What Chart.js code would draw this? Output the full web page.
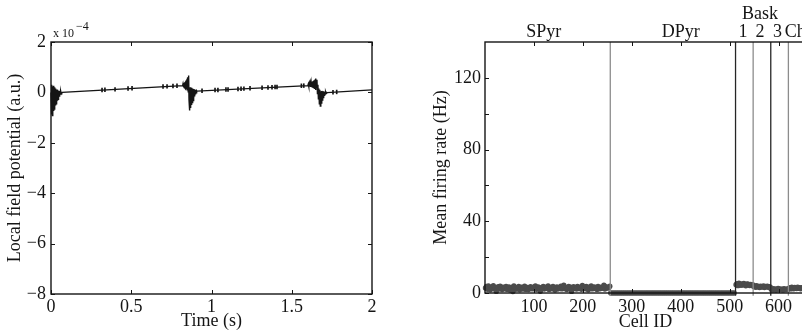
<!DOCTYPE html>
<html>
<head>
<meta charset="utf-8">
<script src="https://cdn.jsdelivr.net/npm/chart.js@4.4.1/dist/chart.umd.min.js"></script>
<style>
  html, body { margin: 0; padding: 0; background: #fff; overflow: hidden; }
  #wrap { position: relative; width: 802px; height: 333px; overflow: hidden; }
  #lfpChart { position: absolute; left: 0; top: 0; }
  #rateChart { position: absolute; left: 400px; top: 0; }
</style>
</head>
<body>
<div id="wrap">
  <canvas id="lfpChart" width="400" height="333"></canvas>
  <canvas id="rateChart" width="430" height="333"></canvas>
</div>
<script>
// LFP trace, values in units of 1e-4
const lfpTime = [
  // onset burst
  0.000, 0.002, 0.004, 0.006, 0.008, 0.010, 0.012, 0.014, 0.016, 0.018,
  0.020, 0.022, 0.024, 0.026, 0.028, 0.030, 0.032, 0.034, 0.036, 0.038,
  0.040, 0.042, 0.044, 0.046, 0.048, 0.050, 0.052, 0.054, 0.056, 0.058,
  0.060, 0.062, 0.064, 0.066, 0.068, 0.070,
  // second burst
  0.8200, 0.8225, 0.8250, 0.8275, 0.8300, 0.8325, 0.8350, 0.8375, 0.8400, 0.8425,
  0.8450, 0.8475, 0.8500, 0.8525, 0.8550, 0.8575, 0.8600, 0.8625, 0.8650, 0.8675,
  0.8700, 0.8725, 0.8750, 0.8775, 0.8800, 0.8825, 0.8850, 0.8875, 0.8900, 0.8925,
  0.8950, 0.8975, 0.9000, 0.9025, 0.9050, 0.9075, 0.9100,
  // third burst
  1.600, 1.603, 1.606, 1.609, 1.612, 1.615, 1.618, 1.621, 1.624, 1.627,
  1.630, 1.633, 1.636, 1.639, 1.642, 1.645, 1.648, 1.651, 1.654, 1.657,
  1.660, 1.663, 1.666, 1.669, 1.672, 1.675, 1.678, 1.681, 1.684, 1.687,
  1.690, 1.693, 1.696, 1.699, 1.702, 1.705, 1.708, 1.711, 1.714, 1.717,
  1.720,
  2.000
];
const lfpValue = [
  0.00, 0.28, -0.88, 0.30, -0.92, 0.22, -0.80, 0.26, -0.74, 0.18,
  -0.66, 0.20, -0.58, 0.14, -0.52, 0.15, -0.45, 0.10, -0.40, 0.11,
  -0.33, 0.08, -0.27, 0.07, -0.22, 0.05, -0.17, 0.05, -0.13, 0.03,
  -0.09, 0.03, -0.06, 0.02, -0.03, 0.00,
  0.27, 0.34, 0.21, 0.37, 0.19, 0.40, 0.17, 0.44, 0.14, 0.48,
  0.12, 0.54, 0.08, 0.60, 0.02, 0.67, -0.30, 0.10, -0.72, 0.20,
  -0.62, 0.18, -0.50, 0.16, -0.40, 0.15, -0.32, 0.13, -0.24, 0.12,
  -0.16, 0.10, -0.08, 0.09, -0.02, 0.07, 0.05,
  0.27, 0.33, 0.24, 0.35, 0.23, 0.37, 0.22, 0.39, 0.21, 0.42,
  0.19, 0.45, 0.17, 0.48, 0.14, 0.51, 0.10, 0.55, 0.20, 0.50,
  -0.05, 0.30, -0.25, 0.15, -0.45, 0.10, -0.54, 0.05, -0.42, 0.06,
  -0.30, 0.05, -0.20, 0.04, -0.12, 0.03, -0.07, 0.02, -0.04, 0.00,
  -0.01,
  0.10
];

// small spikes riding on the trace
const spikeTime = [0.318, 0.336, 0.399, 0.480, 0.505, 0.698, 0.723, 0.760, 0.785,
  0.941, 1.022, 1.040, 1.090, 1.103, 1.165, 1.184, 1.202, 1.240, 1.315, 1.352,
  1.377, 1.396, 1.408, 1.560, 1.575, 1.757, 1.780];
const spikeLow = [0.020, 0.027, 0.050, 0.079, 0.088, 0.159, 0.168, 0.181, 0.190,
  -0.008, 0.017, 0.023, 0.039, 0.043, 0.063, 0.069, 0.075, 0.087, 0.111, 0.123,
  0.131, 0.137, 0.141, 0.189, 0.194, -0.066, -0.057];
const spikeHigh = [0.170, 0.177, 0.190, 0.229, 0.238, 0.309, 0.308, 0.331, 0.340,
  0.142, 0.167, 0.173, 0.189, 0.193, 0.213, 0.219, 0.225, 0.237, 0.261, 0.273,
  0.281, 0.287, 0.291, 0.339, 0.344, 0.084, 0.093];

const lfpXTicks = [0, 0.5, 1, 1.5, 2];
const lfpYTicks = [-8, -6, -4, -2, 0, 2];

// mean firing rate per cell (Hz)
const spyrRate = [
  2.8, 3.6, 2.1, 3.9, 2.5, 1.8, 3.2, 2.9, 4.1, 2.4, 3.0, 0.9, 2.7, 3.5, 2.2, 3.8,
  2.6, 1.9, 3.3, 2.4, 2.9, 3.7, 2.0, 2.8, 3.4, 1.7, 2.5, 3.1, 0.8, 3.9, 2.7, 2.1,
  3.0, 2.4, 3.6, 1.8, 2.9, 3.3, 2.2, 2.6, 3.8, 2.0, 2.7, 3.1, 1.9, 2.5, 3.5, 2.8,
  2.3, 3.2, 2.6, 4.0, 2.1, 2.9, 3.4, 2.4, 1.0, 3.0, 2.7, 3.6, 2.2, 2.8, 3.3, 2.5,
  3.9, 2.0, 2.6, 3.1, 2.4, 3.7, 2.9, 1.7, 2.8, 3.4, 2.2, 3.0, 2.6, 3.8, 2.3, 2.9,
  4.3, 2.5, 3.1, 2.0, 2.7, 3.6, 2.4, 3.2, 0.9, 2.8, 3.5, 2.6, 3.0, 2.2, 3.7, 2.5,
  2.9, 3.3, 2.1, 4.2, 2.7, 3.0, 2.4, 3.6, 2.8, 1.8, 3.2, 2.6, 3.9, 2.3, 2.9, 3.4,
  2.5, 3.1, 2.0, 3.7, 2.8, 2.4, 3.3, 2.6, 3.0, 4.4, 2.2, 3.5, 2.7, 3.1, 2.9, 3.8
];
const dpyrRate = [
  0, 0, 0, 0, 0, 0, 0, 0, 0, 0, 0, 0, 0, 0, 0, 0,
  0, 0, 0, 0, 0, 0, 0, 0, 0, 0, 0, 0, 0, 0, 0, 0,
  0, 0, 0, 0, 0, 0, 0, 0, 0, 0, 0, 0, 0, 0, 0, 0,
  0, 0, 0, 0, 0, 0, 0, 0, 0, 0, 0, 0, 0, 0, 0, 0
];
const bask1Rate = [4.6, 5.2, 4.1, 5.5, 4.8, 4.3, 5.0, 4.4, 5.3, 4.7, 4.0, 4.9, 5.1, 4.5, 4.2, 4.8, 4.4, 4.6];
const bask2Rate = [3.6, 3.9, 3.2, 4.1, 3.4, 3.7, 3.0, 3.8, 3.3, 3.5, 4.0, 3.1, 3.6, 3.4, 3.8, 3.2, 3.5, 3.3];
const bask3Rate = [2.1, 1.6, 2.4, 1.8, 2.2, 1.5, 2.0, 2.6, 1.7, 2.3, 1.9, 2.1, 1.6, 2.4, 2.0, 1.8, 2.2, 1.9];
const chRate = [2.6, 3.0, 2.3, 3.2, 2.7, 2.4, 3.1, 2.8, 2.5, 3.3, 2.6, 2.9, 2.4, 3.0, 2.7, 2.5, 3.1, 2.8];

// first cell id and id spacing of each group's samples
const groupRates = [spyrRate, dpyrRate, bask1Rate, bask2Rate, bask3Rate, chRate];
const groupFirstCell = [1, 257, 513, 549, 585, 621];
const groupCellStep = [2, 4, 2, 2, 2, 2];
const boundaryCell = [256, 512, 548, 584, 620];

const groupLabels = ["SPyr", "DPyr", "Bask", "1", "2", "3", "Ch"];
const groupLabelCell = [120, 400, 562, 527, 562, 598, 634];

const rateXTicks = [100, 200, 300, 400, 500, 600];
const rateYLabels = [0, 40, 80, 120];
const rateYTicks = [0, 20, 40, 60, 80, 100, 120];

const serif = "'Liberation Serif', 'DejaVu Serif', serif";
const ink = "#151515";

// frame plus inward tick marks on every side
const boxTicks = {
  id: "boxTicks",
  afterDatasetsDraw(chart, args, opts) {
    const { ctx, chartArea: a, scales } = chart;
    const len = 4;
    ctx.save();
    ctx.strokeStyle = ink;
    ctx.lineWidth = 1;
    ctx.beginPath();
    opts.xTicks.forEach((v) => {
      const px = Math.round(scales.x.getPixelForValue(v)) + 0.5;
      ctx.moveTo(px, a.bottom); ctx.lineTo(px, a.bottom - len);
      ctx.moveTo(px, a.top); ctx.lineTo(px, a.top + len);
    });
    opts.yTicks.forEach((v) => {
      const py = Math.round(scales.y.getPixelForValue(v)) + 0.5;
      ctx.moveTo(a.left, py); ctx.lineTo(a.left + len, py);
      ctx.moveTo(a.right, py); ctx.lineTo(a.right - len, py);
    });
    ctx.stroke();
    ctx.lineWidth = 1.4;
    ctx.strokeRect(a.left, a.top, a.right - a.left, a.bottom - a.top);
    ctx.restore();
  }
};

// "x 10^-4" multiplier over the y axis
const expLabel = {
  id: "expLabel",
  afterDraw(chart) {
    const { ctx, chartArea: a } = chart;
    ctx.save();
    ctx.fillStyle = ink;
    ctx.textBaseline = "alphabetic";
    ctx.font = "12px " + serif;
    ctx.fillText("x 10", a.left + 2, a.top - 5);
    ctx.fillText("\u22124", a.left + 25, a.top - 12);
    ctx.restore();
  }
};

// cell group names along the top
const groupNames = {
  id: "groupNames",
  afterDraw(chart) {
    const { ctx, scales } = chart;
    ctx.save();
    ctx.fillStyle = ink;
    ctx.font = "18px " + serif;
    ctx.textAlign = "center";
    ctx.textBaseline = "alphabetic";
    groupLabels.forEach((t, i) => {
      const y = t === "Bask" ? 19 : 37;
      ctx.fillText(t, scales.x.getPixelForValue(groupLabelCell[i]), y);
    });
    ctx.restore();
  }
};

const tickFont = { family: serif, size: 18 };
const titleFont = { family: serif, size: 18 };

const lfpChart = new Chart(document.getElementById("lfpChart"), {
  type: "line",
  data: {
    datasets: [
      {
        label: "LFP",
        data: lfpTime.map((t, i) => ({ x: t, y: lfpValue[i] })),
        borderColor: ink,
        borderWidth: 1.4,
        pointRadius: 0,
        tension: 0,
        clip: false,
      },
      {
        type: "bar",
        label: "spikes",
        data: spikeTime.map((t, i) => ({ x: t, y: [spikeLow[i], spikeHigh[i]] })),
        backgroundColor: ink,
        barThickness: 1,
        grouped: false,
      },
    ],
  },
  options: {
    responsive: false,
    animation: false,
    events: [],
    layout: { padding: { top: 42, right: 28, left: 0, bottom: 0 } },
    plugins: {
      legend: { display: false },
      tooltip: { enabled: false },
      boxTicks: { xTicks: lfpXTicks, yTicks: lfpYTicks },
    },
    scales: {
      x: {
        type: "linear",
        min: 0,
        max: 2,
        offset: false,
        afterFit: (s) => { s.height = 39; },
        afterBuildTicks: (s) => { s.ticks = lfpXTicks.map((v) => ({ value: v })); },
        grid: { display: false, drawTicks: false },
        border: { display: false },
        ticks: { font: tickFont, color: ink, padding: 2, maxRotation: 0, callback: (v) => String(v) },
        title: { display: true, text: "Time (s)", font: titleFont, color: ink, padding: { top: 0, bottom: 1 } },
      },
      y: {
        min: -8,
        max: 2,
        afterFit: (s) => { s.width = 51; },
        afterBuildTicks: (s) => { s.ticks = lfpYTicks.map((v) => ({ value: v })); },
        grid: { display: false, drawTicks: false },
        border: { display: false },
        ticks: { font: tickFont, color: ink, padding: 5, callback: (v) => String(v).replace("-", "\u2212") },
        title: { display: true, text: "Local field potential (a.u.)", font: titleFont, color: ink, padding: { top: 4, bottom: 0 } },
      },
    },
  },
  plugins: [boxTicks, expLabel],
});

const ratePoints = [];
groupRates.forEach((rates, g) => {
  rates.forEach((r, i) => {
    ratePoints.push({ x: groupFirstCell[g] + i * groupCellStep[g], y: r });
  });
});

const boundarySets = boundaryCell.map((c, i) => ({
  type: "line",
  label: "boundary " + c,
  data: [{ x: c, y: -1.5 }, { x: c, y: 140 }],
  borderColor: i % 2 ? "#262626" : "#8c8c8c",
  borderWidth: 1.3,
  pointRadius: 0,
  clip: false,
}));

const rateChart = new Chart(document.getElementById("rateChart"), {
  type: "scatter",
  data: {
    datasets: [
      ...boundarySets,
      {
        label: "rate",
        data: ratePoints,
        backgroundColor: "#4b4b4b",
        borderWidth: 0,
        pointRadius: 2.7,
        clip: false,
      },
    ],
  },
  options: {
    responsive: false,
    animation: false,
    events: [],
    layout: { padding: { top: 42, right: 24, left: 0, bottom: 0 } },
    plugins: {
      legend: { display: false },
      tooltip: { enabled: false },
      boxTicks: { xTicks: rateXTicks, yTicks: rateYTicks },
    },
    scales: {
      x: {
        type: "linear",
        min: 0,
        max: 656,
        afterFit: (s) => { s.height = 40; },
        afterBuildTicks: (s) => { s.ticks = rateXTicks.map((v) => ({ value: v })); },
        grid: { display: false, drawTicks: false },
        border: { display: false },
        ticks: { font: tickFont, color: ink, padding: 3, maxRotation: 0 },
        title: { display: true, text: "Cell ID", font: titleFont, color: ink, padding: { top: 0, bottom: 0 } },
      },
      y: {
        min: 0,
        max: 140,
        afterFit: (s) => { s.width = 85; },
        afterBuildTicks: (s) => { s.ticks = rateYLabels.map((v) => ({ value: v })); },
        grid: { display: false, drawTicks: false },
        border: { display: false },
        ticks: { font: tickFont, color: ink, padding: 4 },
        title: { display: true, text: "Mean firing rate (Hz)", font: titleFont, color: ink, padding: { top: 30, bottom: 0 } },
      },
    },
  },
  plugins: [boxTicks, groupNames],
});
</script>
</body>
</html>
